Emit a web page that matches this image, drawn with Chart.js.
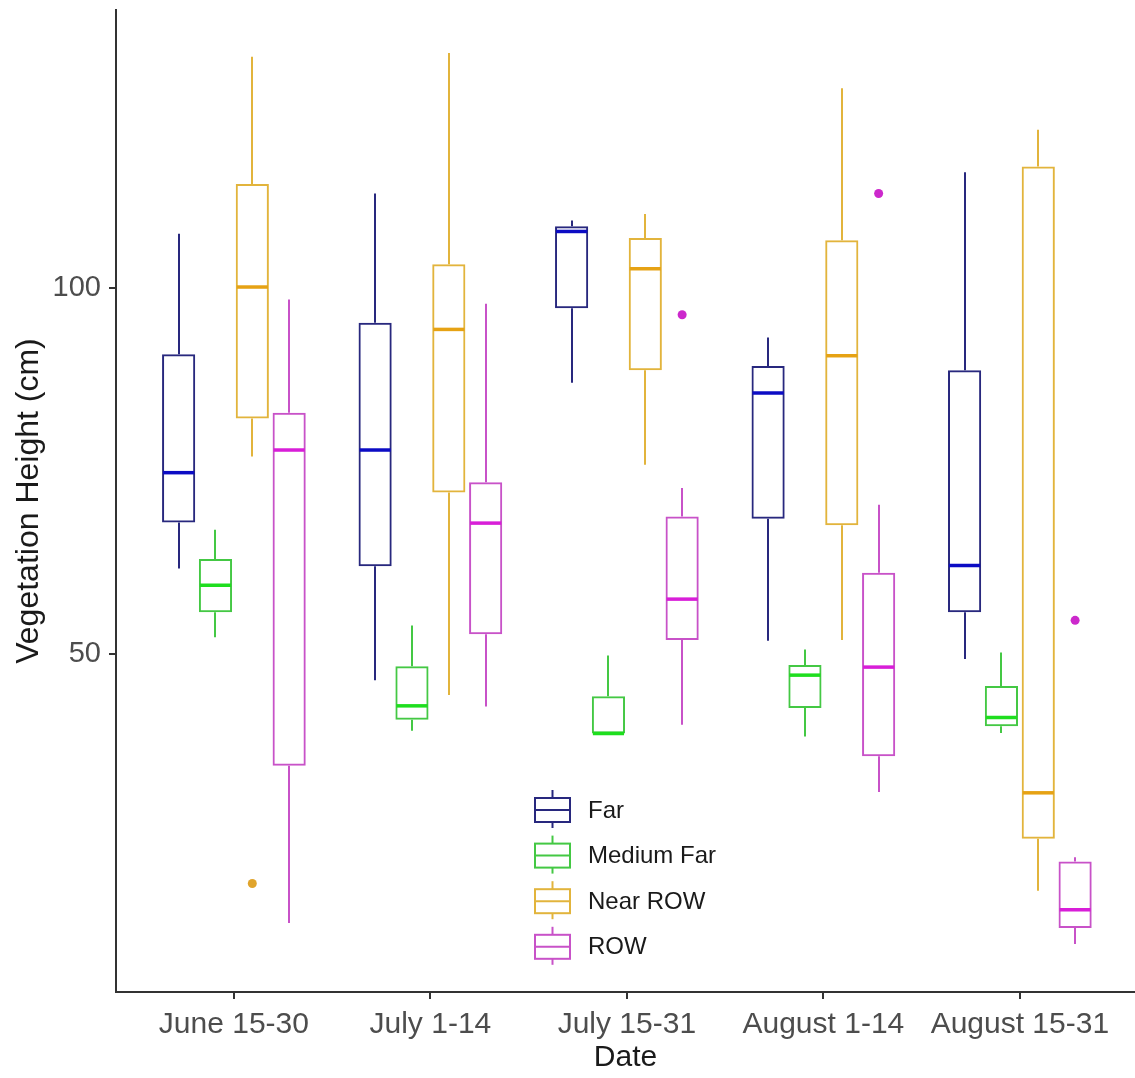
<!DOCTYPE html>
<html>
<head>
<meta charset="utf-8">
<style>
  html, body { margin: 0; padding: 0; background: #ffffff; }
  #wrap { width: 1135px; height: 1078px; }
</style>
<script src="https://cdn.jsdelivr.net/npm/chart.js@4/dist/chart.umd.min.js"></script>
</head>
<body>
<div id="wrap"><canvas id="c" width="1135" height="1078"></canvas></div>
<script>
// ---- data ----
const categories = ['June 15-30', 'July 1-14', 'July 15-31', 'August 1-14', 'August 15-31'];
const seriesNames = ['Far', 'Medium Far', 'Near ROW', 'ROW'];
const yTicks = [50, 100];

const farMin = [61.7, 46.4, 87.1, 51.8, 49.3];
const farQ1  = [68.0, 62.0, 97.3, 68.5, 55.7];
const farMed = [74.8, 77.9, 107.8, 85.7, 62.1];
const farQ3  = [91.0, 95.3, 108.5, 89.4, 88.8];
const farMax = [107.5, 113.0, 109.3, 93.3, 115.9];

const medMin = [52.3, 39.5, 39.1, 38.7, 39.2];
const medQ1  = [55.7, 41.0, 39.1, 42.6, 40.1];
const medMed = [59.4, 42.9, 39.1, 47.1, 41.3];
const medQ3  = [63.0, 48.3, 44.2, 48.5, 45.6];
const medMax = [67.0, 53.9, 49.8, 50.6, 50.2];

const nearMin = [77.0, 44.4, 75.9, 51.9, 17.6];
const nearQ1  = [82.2, 72.1, 88.8, 67.6, 24.7];
const nearMed = [100.2, 94.4, 102.7, 90.8, 31.0];
const nearQ3  = [114.3, 103.3, 106.9, 106.6, 116.7];
const nearMax = [131.7, 132.2, 110.2, 127.4, 121.7];

const rowMin = [13.2, 42.8, 40.3, 31.1, 10.3];
const rowQ1  = [34.7, 52.7, 51.9, 36.0, 12.5];
const rowMed = [77.9, 67.9, 57.5, 48.2, 15.0];
const rowQ3  = [83.0, 73.5, 68.8, 61.1, 21.6];
const rowMax = [98.5, 97.9, 72.7, 70.4, 22.2];

const farOut  = [[], [], [], [], []];
const medOut  = [[], [], [], [], []];
const nearOut = [[18.6], [], [], [], []];
const rowOut  = [[], [], [96.4], [113.0], [54.6]];

// ---- styles ----
const lineColors   = ['#28287e', '#44c844', '#e2b43c', '#c852c8'];
const medianColors = ['#0c0cc4', '#1ede1e', '#e6a214', '#d81ed8'];
const outColors    = ['#28287e', '#44c844', '#e0a42c', '#cc28cc'];

const stats = [
  {min: farMin,  q1: farQ1,  med: farMed,  q3: farQ3,  max: farMax,  out: farOut},
  {min: medMin,  q1: medQ1,  med: medMed,  q3: medQ3,  max: medMax,  out: medOut},
  {min: nearMin, q1: nearQ1, med: nearMed, q3: nearQ3, max: nearMax, out: nearOut},
  {min: rowMin,  q1: rowQ1,  med: rowMed,  q3: rowQ3,  max: rowMax,  out: rowOut}
];

const datasets = seriesNames.map((name, k) => ({
  label: name,
  data: categories.map((c, i) => ({x: i, y: [stats[k].q1[i], stats[k].q3[i]]})),
  backgroundColor: 'rgba(255,255,255,0)',
  borderColor: lineColors[k],
  borderWidth: 2,
  borderSkipped: false,
  categoryPercentage: 0.75,
  barPercentage: 0.9
}));

function seg(ctx, x1, y1, x2, y2) {
  ctx.beginPath(); ctx.moveTo(x1, y1); ctx.lineTo(x2, y2); ctx.stroke();
}

const boxPlugin = {
  id: 'boxExtras',
  beforeDatasetsDraw(chart) {
    const ctx = chart.ctx, ys = chart.scales.y;
    ctx.save();
    chart.data.datasets.forEach((ds, k) => {
      const meta = chart.getDatasetMeta(k);
      const s = stats[k];
      ctx.strokeStyle = lineColors[k];
      ctx.lineWidth = 2;
      meta.data.forEach((bar, i) => {
        const x = Math.round(bar.x);
        seg(ctx, x, ys.getPixelForValue(s.q3[i]), x, ys.getPixelForValue(s.max[i]));
        seg(ctx, x, ys.getPixelForValue(s.q1[i]), x, ys.getPixelForValue(s.min[i]));
      });
    });
    ctx.restore();
  },
  afterDatasetsDraw(chart) {
    const ctx = chart.ctx, ys = chart.scales.y;
    ctx.save();
    chart.data.datasets.forEach((ds, k) => {
      const meta = chart.getDatasetMeta(k);
      const s = stats[k];
      meta.data.forEach((bar, i) => {
        const x = bar.x, w = bar.width;
        const ym = ys.getPixelForValue(s.med[i]);
        ctx.strokeStyle = medianColors[k];
        ctx.lineWidth = 3.5;
        seg(ctx, x - w / 2 + 1, ym, x + w / 2 - 1, ym);
        ctx.fillStyle = outColors[k];
        s.out[i].forEach(v => {
          ctx.beginPath();
          ctx.arc(x, ys.getPixelForValue(v), 4.5, 0, Math.PI * 2);
          ctx.fill();
        });
      });
    });
    // legend
    const lx = 535, lw = 35, bh = 24, ly0 = 810, gap = 45.6;
    ctx.font = '24px "Liberation Sans", Arial, sans-serif';
    ctx.textBaseline = 'middle';
    ctx.textAlign = 'left';
    seriesNames.forEach((name, k) => {
      const cy = ly0 + k * gap;
      const cx = lx + lw / 2;
      ctx.strokeStyle = lineColors[k];
      ctx.lineWidth = 2;
      seg(ctx, cx, cy - bh / 2 - 8, cx, cy - bh / 2);
      seg(ctx, cx, cy + bh / 2, cx, cy + bh / 2 + 6);
      ctx.strokeRect(lx, cy - bh / 2, lw, bh);
      seg(ctx, lx, cy, lx + lw, cy);
      ctx.fillStyle = '#1a1a1a';
      ctx.fillText(name, 588, cy + 1);
    });
    ctx.restore();
  }
};

const FONT = '"Liberation Sans", Arial, sans-serif';

function zeroPad(axis) {
  axis.paddingTop = 0; axis.paddingBottom = 0;
  axis.paddingLeft = 0; axis.paddingRight = 0;
}

new Chart(document.getElementById('c'), {
  type: 'bar',
  data: { datasets },
  plugins: [boxPlugin],
  options: {
    responsive: false,
    animation: false,
    devicePixelRatio: 1,
    layout: { padding: { top: 10, left: 0, right: 0, bottom: 0 } },
    plugins: { legend: { display: false }, tooltip: { enabled: false } },
    scales: {
      x: {
        type: 'linear',
        min: -0.6,
        max: 4.586,
        offset: false,
        afterBuildTicks: (axis) => { axis.ticks = categories.map((c, i) => ({value: i})); },
        afterFit: (axis) => { axis.height = 86; zeroPad(axis); },
        grid: { offset: false, drawOnChartArea: false, drawTicks: true, tickLength: 7, lineWidth: 2, color: '#333333' },
        border: { display: true, color: '#333333', width: 2 },
        ticks: {
          autoSkip: false, maxRotation: 0, padding: 8,
          color: '#4d4d4d',
          font: { family: FONT, size: 30 },
          callback: (v) => categories[v]
        },
        title: { display: true, text: 'Date', color: '#1a1a1a', font: { family: FONT, size: 30 }, padding: { top: 0, bottom: 2 } }
      },
      y: {
        type: 'linear',
        min: 3.75,
        max: 138.1,
        afterBuildTicks: (axis) => { axis.ticks = yTicks.map(v => ({value: v})); },
        afterFit: (axis) => { axis.width = 116; zeroPad(axis); },
        grid: { drawOnChartArea: false, drawTicks: true, tickLength: 7, lineWidth: 2, color: '#333333' },
        border: { display: true, color: '#333333', width: 2 },
        ticks: { padding: 8, color: '#4d4d4d', font: { family: FONT, size: 29 } },
        title: { display: true, text: 'Vegetation Height (cm)', color: '#1a1a1a', font: { family: FONT, size: 32 }, padding: { top: 10, bottom: 0 } }
      }
    }
  }
});
</script>
</body>
</html>
